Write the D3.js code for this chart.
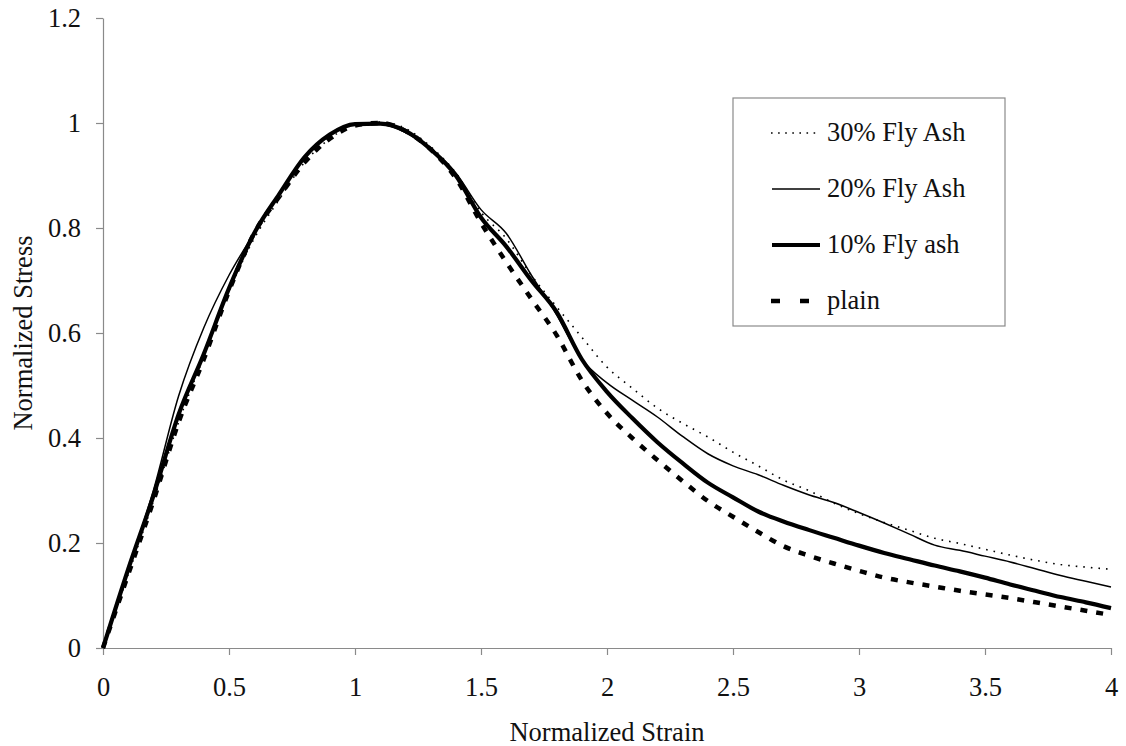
<!DOCTYPE html>
<html>
<head>
<meta charset="utf-8">
<script src="https://cdn.jsdelivr.net/npm/d3@7"></script>
<style>
  body { margin: 0; background: #fff; }
  svg text { font-family: "Liberation Serif", "Times New Roman", serif; fill: #111; }
</style>
</head>
<body>
<div class="chart"></div>
<script>
// shared strain grid, 0 .. 4 step 0.1
const strain = d3.range(0, 41).map(i => +(i * 0.1).toFixed(1))

const fly30 = [0, 0.14, 0.28, 0.43, 0.555, 0.68, 0.78, 0.855, 0.925, 0.97, 0.997,
  1.002, 0.99, 0.955, 0.905, 0.83, 0.78, 0.71, 0.65, 0.592, 0.535,
  0.495, 0.457, 0.428, 0.402, 0.373, 0.347, 0.32, 0.30, 0.276, 0.256,
  0.239, 0.224, 0.209, 0.199, 0.188, 0.177, 0.167, 0.159, 0.154, 0.15]

const fly20 = [0, 0.15, 0.30, 0.48, 0.61, 0.71, 0.79, 0.865, 0.935, 0.978, 0.998,
  0.998, 0.982, 0.952, 0.905, 0.835, 0.79, 0.71, 0.635, 0.55, 0.505,
  0.472, 0.44, 0.403, 0.37, 0.347, 0.33, 0.31, 0.292, 0.277, 0.258,
  0.238, 0.217, 0.196, 0.186, 0.175, 0.164, 0.151, 0.138, 0.127, 0.116]

const fly10 = [0, 0.15, 0.29, 0.445, 0.56, 0.685, 0.79, 0.865, 0.935, 0.978, 0.998,
  0.999, 0.985, 0.95, 0.90, 0.82, 0.765, 0.70, 0.64, 0.55, 0.488,
  0.438, 0.392, 0.352, 0.315, 0.287, 0.26, 0.241, 0.225, 0.21, 0.195,
  0.181, 0.169, 0.157, 0.146, 0.134, 0.121, 0.109, 0.097, 0.087, 0.076]

const plain = [0, 0.14, 0.28, 0.43, 0.55, 0.68, 0.79, 0.86, 0.925, 0.97, 0.995,
  1.0, 0.985, 0.95, 0.895, 0.81, 0.735, 0.665, 0.596, 0.51, 0.447,
  0.40, 0.358, 0.318, 0.28, 0.25, 0.221, 0.194, 0.176, 0.161, 0.147,
  0.134, 0.125, 0.117, 0.109, 0.102, 0.095, 0.087, 0.079, 0.071, 0.063]

const seriesNames = ["30% Fly Ash", "20% Fly Ash", "10% Fly ash", "plain"]
const xTicks = [0, 0.5, 1, 1.5, 2, 2.5, 3, 3.5, 4]
const yTicks = [0, 0.2, 0.4, 0.6, 0.8, 1, 1.2]

const styles = [
  { width: 1.6, dash: "1.6,6", legendDash: "1.6,5.5" },
  { width: 1.5, dash: null, legendDash: null },
  { width: 4.2, dash: null, legendDash: null },
  { width: 4.5, dash: "7,9", legendDash: "9,20" }
]

const series = [fly30, fly20, fly10, plain].map((vals, i) => ({
  name: seriesNames[i],
  points: strain.map((s, j) => [s, vals[j]]),
  style: styles[i]
}))

const width = 1126
const height = 746
const fontSize = 26.5
const serif = "Liberation Serif, Times New Roman, serif"

const svg = d3.select('.chart')
  .append('svg')
  .attr("width", width)
  .attr("height", height)
  .attr("font-family", serif)

const x = d3.scaleLinear().domain([0, 4]).range([103, 1111])
const y = d3.scaleLinear().domain([0, 1.2]).range([648, 18])

// axes
svg.append("g")
  .attr("transform", `translate(0,${y(0)})`)
  .call(d3.axisBottom(x).tickValues(xTicks).tickFormat(d3.format("")).tickSize(7).tickSizeOuter(0).tickPadding(22))
  .attr("font-family", serif)
svg.append("g")
  .attr("transform", `translate(${x(0)},0)`)
  .call(d3.axisLeft(y).tickValues(yTicks).tickFormat(d3.format("")).tickSize(7).tickSizeOuter(0).tickPadding(15))
  .attr("font-family", serif)

svg.selectAll(".domain, .tick line").attr("stroke", "#8a8a8a").attr("stroke-width", 1.2)
svg.selectAll(".tick text")
  .attr("font-size", fontSize)
  .attr("font-family", serif)
  .attr("fill", "#111")

// lines
const line = d3.line()
  .x(d => x(d[0]))
  .y(d => y(d[1]))
  .curve(d3.curveMonotoneX)

svg.append("g")
  .selectAll("path")
  .data(series)
  .join("path")
  .attr("d", d => line(d.points))
  .attr("fill", "none")
  .attr("stroke", "#000")
  .attr("stroke-width", d => d.style.width)
  .attr("stroke-dasharray", d => d.style.dash)
  .attr("stroke-linejoin", "round")

// axis titles
svg.append("text")
  .attr("x", (x(0) + x(4)) / 2)
  .attr("y", 741)
  .attr("text-anchor", "middle")
  .attr("font-size", fontSize)
  .text("Normalized Strain")

svg.append("text")
  .attr("transform", `translate(23,${(y(0) + y(1.2)) / 2}) rotate(-90)`)
  .attr("text-anchor", "middle")
  .attr("dy", "0.35em")
  .attr("font-size", fontSize)
  .text("Normalized Stress")

// legend
const legend = svg.append("g")
legend.append("rect")
  .attr("x", 733).attr("y", 98)
  .attr("width", 272).attr("height", 228)
  .attr("fill", "#fff")
  .attr("stroke", "#8a8a8a")
  .attr("stroke-width", 1.2)

const item = legend.selectAll("g.item")
  .data(series)
  .join("g")
  .attr("class", "item")
  .attr("transform", (d, i) => `translate(0,${133 + i * 56})`)

item.append("line")
  .attr("x1", d => d.style.dash ? 771 : 772)
  .attr("x2", 820)
  .attr("stroke", "#000")
  .attr("stroke-width", d => d.style.width)
  .attr("stroke-dasharray", d => d.style.legendDash)

item.append("text")
  .attr("x", 827)
  .attr("dy", "0.32em")
  .attr("font-size", fontSize)
  .text(d => d.name)
</script>
</body>
</html>
